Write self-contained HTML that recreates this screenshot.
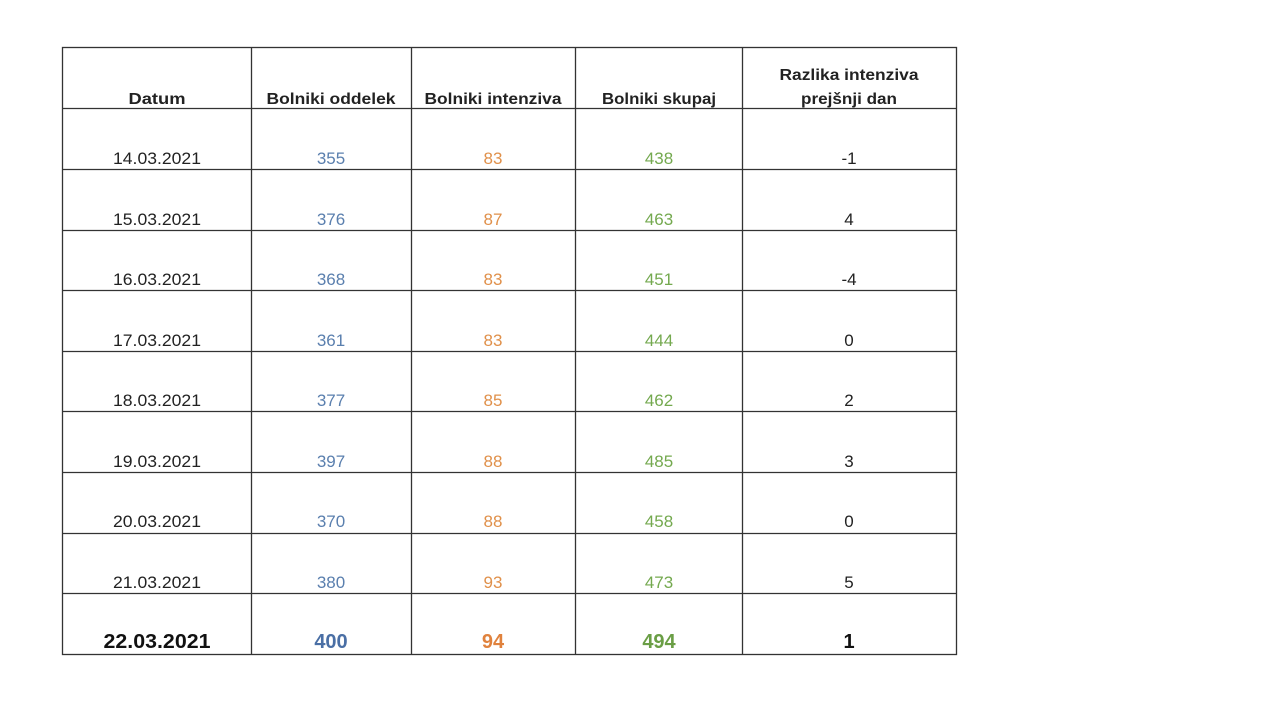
<!DOCTYPE html>
<html><head><meta charset="utf-8"><style>
html,body{margin:0;padding:0;background:#fff;}
svg{display:block;}
text{font-family:"Liberation Sans",sans-serif;}
</style></head><body>
<svg width="1280" height="720" viewBox="0 0 1280 720">
<g stroke="#333" stroke-width="1.3" fill="none">
<rect x="62.5" y="47.5" width="894" height="607"/>
<line x1="251.5" y1="47" x2="251.5" y2="654"/>
<line x1="411.5" y1="47" x2="411.5" y2="654"/>
<line x1="575.5" y1="47" x2="575.5" y2="654"/>
<line x1="742.5" y1="47" x2="742.5" y2="654"/>
<line x1="62" y1="108.5" x2="956" y2="108.5"/>
<line x1="62" y1="169.5" x2="956" y2="169.5"/>
<line x1="62" y1="230.5" x2="956" y2="230.5"/>
<line x1="62" y1="290.5" x2="956" y2="290.5"/>
<line x1="62" y1="351.5" x2="956" y2="351.5"/>
<line x1="62" y1="411.5" x2="956" y2="411.5"/>
<line x1="62" y1="472.5" x2="956" y2="472.5"/>
<line x1="62" y1="533.5" x2="956" y2="533.5"/>
<line x1="62" y1="593.5" x2="956" y2="593.5"/>
</g>
<g font-weight="bold" font-size="16" fill="#222" text-anchor="middle">
<text x="157" y="104" textLength="57" lengthAdjust="spacingAndGlyphs">Datum</text>
<text x="331" y="104" textLength="129" lengthAdjust="spacingAndGlyphs">Bolniki oddelek</text>
<text x="493" y="104" textLength="137" lengthAdjust="spacingAndGlyphs">Bolniki intenziva</text>
<text x="659" y="104" textLength="114" lengthAdjust="spacingAndGlyphs">Bolniki skupaj</text>
<text x="849" y="80" textLength="139" lengthAdjust="spacingAndGlyphs">Razlika intenziva</text>
<text x="849" y="104" textLength="96" lengthAdjust="spacingAndGlyphs">prejšnji dan</text>
</g>
<g font-size="17" text-anchor="middle">
<g fill="#222">
<text x="157" y="164" textLength="88" lengthAdjust="spacingAndGlyphs">14.03.2021</text>
<text x="157" y="225" textLength="88" lengthAdjust="spacingAndGlyphs">15.03.2021</text>
<text x="157" y="285" textLength="88" lengthAdjust="spacingAndGlyphs">16.03.2021</text>
<text x="157" y="346" textLength="88" lengthAdjust="spacingAndGlyphs">17.03.2021</text>
<text x="157" y="406" textLength="88" lengthAdjust="spacingAndGlyphs">18.03.2021</text>
<text x="157" y="467" textLength="88" lengthAdjust="spacingAndGlyphs">19.03.2021</text>
<text x="157" y="527" textLength="88" lengthAdjust="spacingAndGlyphs">20.03.2021</text>
<text x="157" y="588" textLength="88" lengthAdjust="spacingAndGlyphs">21.03.2021</text>
<text x="849" y="164">-1</text>
<text x="849" y="225">4</text>
<text x="849" y="285">-4</text>
<text x="849" y="346">0</text>
<text x="849" y="406">2</text>
<text x="849" y="467">3</text>
<text x="849" y="527">0</text>
<text x="849" y="588">5</text>
</g>
<g fill="#5a7fae">
<text x="331" y="164">355</text><text x="331" y="225">376</text><text x="331" y="285">368</text><text x="331" y="346">361</text>
<text x="331" y="406">377</text><text x="331" y="467">397</text><text x="331" y="527">370</text><text x="331" y="588">380</text>
</g>
<g fill="#e0904a">
<text x="493" y="164">83</text><text x="493" y="225">87</text><text x="493" y="285">83</text><text x="493" y="346">83</text>
<text x="493" y="406">85</text><text x="493" y="467">88</text><text x="493" y="527">88</text><text x="493" y="588">93</text>
</g>
<g fill="#74a94f">
<text x="659" y="164">438</text><text x="659" y="225">463</text><text x="659" y="285">451</text><text x="659" y="346">444</text>
<text x="659" y="406">462</text><text x="659" y="467">485</text><text x="659" y="527">458</text><text x="659" y="588">473</text>
</g>
</g>
<g font-size="20" font-weight="bold" text-anchor="middle">
<text x="157" y="648" fill="#111" textLength="107" lengthAdjust="spacingAndGlyphs">22.03.2021</text>
<text x="331" y="648" fill="#4a6fa5">400</text>
<text x="493" y="648" fill="#e0823d">94</text>
<text x="659" y="648" fill="#6a9e45">494</text>
<text x="849" y="648" fill="#111">1</text>
</g>
</svg>
</body></html>
